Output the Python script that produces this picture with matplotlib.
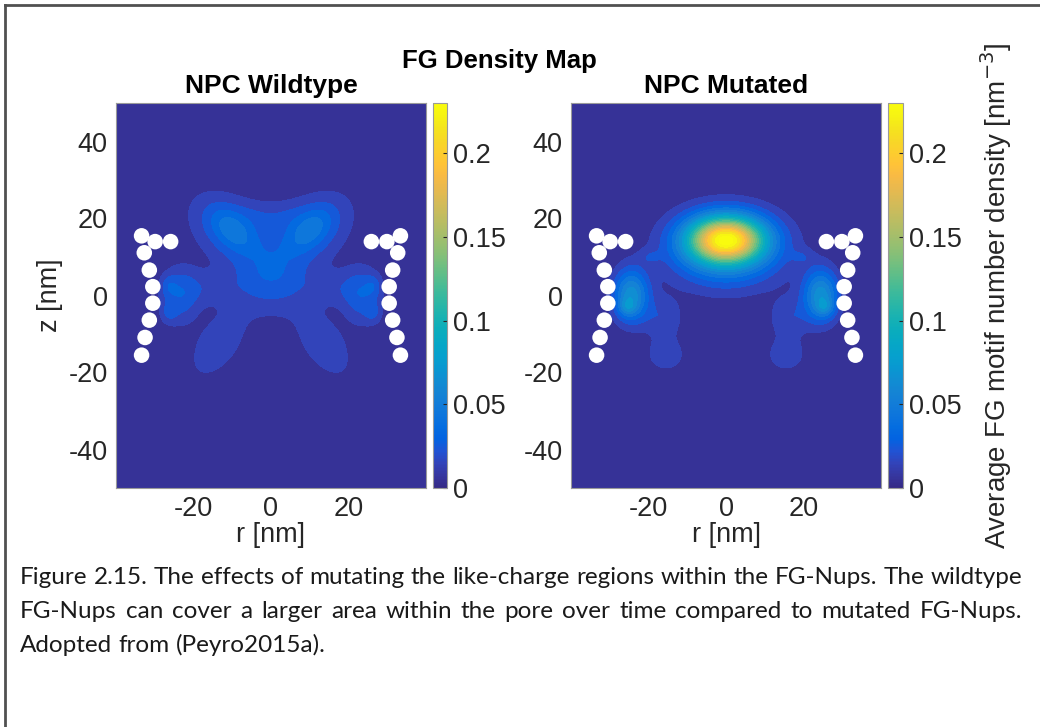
import numpy as np
import matplotlib
matplotlib.use("Agg")
import matplotlib.pyplot as plt
from matplotlib.colors import LinearSegmentedColormap, Normalize
from matplotlib.cm import ScalarMappable
from matplotlib.lines import Line2D
from matplotlib.ticker import FuncFormatter

plt.rcParams["font.family"] = ["Liberation Sans", "DejaVu Sans"]
plt.rcParams["axes.unicode_minus"] = False

# ---------------- data ----------------
r_limits = [-40, 40]
z_limits = [-50, 50]
x_ticks = [-20, 0, 20]
y_ticks = [-40, -20, 0, 20, 40]
cbar_ticks = [0, 0.05, 0.1, 0.15, 0.2]
cbar_max = 0.23
level_step = 0.01

# NPC scaffold beads (left wall; right wall is the mirror image)
bead_r = [-33.4, -29.9, -25.9, -32.7, -31.4, -30.5, -30.5, -31.4, -32.5, -33.4]
bead_z = [15.5, 14.0, 14.0, 11.1, 6.6, 2.3, -2.0, -6.4, -10.9, -15.5]

# density components (r, z, long sigma, short sigma, angle deg, peak); r<0 ones are mirrored
wt_r   = [-10.0, -10.0, 0.0, -15.0, -23.5, -26.5, -26.5, -13.5, 0.0, 0.0]
wt_z   = [16.5, 17.0, 5.0, 2.0, 0.0, 2.5, -4.5, -12.5, -2.0, 21.0]
wt_sr  = [8.5, 4.5, 6.0, 6.0, 3.5, 1.5, 1.5, 7.5, 6.0, 7.0]
wt_sz  = [5.5, 2.5, 4.0, 3.5, 5.5, 2.0, 2.0, 4.0, 4.0, 3.0]
wt_ang = [-40, -45, 0, 0, 0, 0, 0, 55, 0, 0]
wt_amp = [0.031, 0.016, 0.016, 0.014, 0.025, 0.012, 0.012, 0.019, 0.010, 0.010]

mut_r   = [0.0, 0.0, -24.5, -25.5, -16.0, -15.5, -19.5]
mut_z   = [14.5, 12.3, 0.0, -3.0, -6.0, -15.5, 10.0]
mut_sr  = [6.5, 10.0, 3.2, 1.5, 3.5, 3.5, 2.0]
mut_sz  = [4.0, 6.8, 4.8, 1.5, 4.0, 3.0, 1.5]
mut_ang = [0, 0, 0, 0, 0, 0, 0]
mut_amp = [0.18, 0.06, 0.065, 0.02, 0.018, 0.018, 0.01]

panel_titles = ["NPC Wildtype", "NPC Mutated"]
suptitle = "FG Density Map"
cbar_label = "Average FG motif number density [nm$^{-3}$]"
caption_lines = [
    "Figure 2.15. The effects of mutating the like-charge regions within the FG-Nups. The wildtype",
    "FG-Nups can cover a larger area within the pore over time compared to mutated FG-Nups.",
    "Adopted from (Peyro2015a).",
]
caption_justify = [True, True, False]

# ---------------- parula colormap ----------------
parula_pts = [
    (0.2081, 0.1663, 0.5292), (0.2123, 0.2138, 0.6270), (0.1959, 0.2645, 0.7279),
    (0.1253, 0.3242, 0.8303), (0.0117, 0.3875, 0.8820), (0.0165, 0.4266, 0.8786),
    (0.0498, 0.4586, 0.8641), (0.0723, 0.4887, 0.8467), (0.0793, 0.5200, 0.8312),
    (0.0641, 0.5570, 0.8240), (0.0343, 0.5966, 0.8199), (0.0239, 0.6287, 0.8038),
    (0.0228, 0.6535, 0.7768), (0.0384, 0.6743, 0.7436), (0.0843, 0.6928, 0.7062),
    (0.1453, 0.7098, 0.6646), (0.2178, 0.7250, 0.6193), (0.3022, 0.7376, 0.5712),
    (0.3953, 0.7459, 0.5244), (0.4871, 0.7491, 0.4840), (0.5709, 0.7485, 0.4494),
    (0.6473, 0.7456, 0.4188), (0.7184, 0.7411, 0.3905), (0.7858, 0.7356, 0.3633),
    (0.8507, 0.7299, 0.3360), (0.9139, 0.7258, 0.3063), (0.9739, 0.7314, 0.2666),
    (0.9990, 0.7653, 0.2164), (0.9880, 0.8066, 0.1794), (0.9697, 0.8481, 0.1475),
    (0.9589, 0.8949, 0.1132), (0.9661, 0.9514, 0.0755), (0.9763, 0.9831, 0.0538),
]
parula = LinearSegmentedColormap.from_list("parula", parula_pts, N=256)


def density(rs, zs, srs, szs, angs, amps, R, Z):
    F = np.zeros_like(R)
    for r0, z0, s1, s2, a, A in zip(rs, zs, srs, szs, angs, amps):
        signs = (1,) if r0 == 0 else (1, -1)
        for s in signs:
            th = np.radians(s * a)
            dr = R - s * r0
            dz = Z - z0
            u = dr * np.cos(th) + dz * np.sin(th)
            v = -dr * np.sin(th) + dz * np.cos(th)
            F += A * np.exp(-0.5 * ((u / s1) ** 2 + (v / s2) ** 2))
    return F


rr = np.linspace(r_limits[0], r_limits[1], 321)
zz = np.linspace(z_limits[0], z_limits[1], 401)
R, Z = np.meshgrid(rr, zz)
fields = [
    density(wt_r, wt_z, wt_sr, wt_sz, wt_ang, wt_amp, R, Z),
    density(mut_r, mut_z, mut_sr, mut_sz, mut_ang, mut_amp, R, Z),
]
levels = np.arange(0, cbar_max + level_step, level_step)
norm = Normalize(vmin=0, vmax=cbar_max)

# ---------------- figure ----------------
W, H = 1040, 727
fig = plt.figure(figsize=(W / 100, H / 100), dpi=100)
fig.patch.set_facecolor("white")


def fx(px):
    return px / W


def fy(py):
    return 1 - py / H


ax_boxes = [(116, 103, 426, 488), (571, 103, 881, 488)]
cb_boxes = [(433, 103, 447, 488), (888, 103, 903, 488)]
tick_color = "#262626"
tick_fs = 19.5

for i in range(2):
    x0, y0, x1, y1 = ax_boxes[i]
    ax = fig.add_axes([fx(x0), fy(y1), fx(x1 - x0), (y1 - y0) / H])
    ax.contourf(R, Z, fields[i], levels=levels, cmap=parula, norm=norm, extend="max")
    bx = np.array(bead_r + [-b for b in bead_r])
    bz = np.array(bead_z + bead_z)
    ax.scatter(bx, bz, s=125, c="white", edgecolors="none", zorder=5)
    ax.set_xlim(r_limits)
    ax.set_ylim(z_limits)
    ax.set_xticks(x_ticks)
    ax.set_yticks(y_ticks)
    ax.tick_params(labelsize=tick_fs, colors=tick_color, length=0, pad=6)
    for sp in ax.spines.values():
        sp.set_color("#9a9a9a")
        sp.set_linewidth(0.8)
    ax.set_xlabel("r [nm]", fontsize=tick_fs, color=tick_color, labelpad=0)
    if i == 0:
        ax.set_ylabel("z [nm]", fontsize=tick_fs, color=tick_color, labelpad=4)
    ax.set_title(panel_titles[i], fontsize=19, fontweight="bold", pad=7)

    cx0, cy0, cx1, cy1 = cb_boxes[i]
    cax = fig.add_axes([fx(cx0), fy(cy1), fx(cx1 - cx0), (cy1 - cy0) / H])
    cb = fig.colorbar(ScalarMappable(norm=norm, cmap=parula), cax=cax, ticks=cbar_ticks,
                      format=FuncFormatter(lambda v, p: f"{v:g}"))
    cb.ax.tick_params(labelsize=tick_fs, colors=tick_color, direction="in", length=3, width=0.8, pad=4)
    cb.outline.set_edgecolor("#9a9a9a")
    cb.outline.set_linewidth(0.8)
    if i == 1:
        cb.set_label(cbar_label, fontsize=20, color=tick_color, labelpad=12)

fig.text(fx(499), fy(61), suptitle, ha="center", va="center", fontsize=18.5, fontweight="bold")

# border lines
fig.add_artist(Line2D([fx(5), 1.0], [fy(5), fy(5)], color="#505050", lw=2))
fig.add_artist(Line2D([fx(5), fx(5)], [fy(5), 0.0], color="#505050", lw=2))

# caption (justified)
cap_family = ["Lato", "DejaVu Sans"]
cap_fs = 17.5
cap_x0, cap_x1 = 20, 1022
cap_y = [577, 611, 645]
renderer = fig.canvas.get_renderer()
for line, just, yy in zip(caption_lines, caption_justify, cap_y):
    words = line.split(" ")
    texts = [fig.text(0, fy(yy), w, fontsize=cap_fs, family=cap_family, va="center", ha="left", color="#1a1a1a")
             for w in words]
    widths = [t.get_window_extent(renderer).width for t in texts]
    if just:
        gap = (cap_x1 - cap_x0 - sum(widths)) / (len(words) - 1)
    else:
        sp = fig.text(0, 0, "a a", fontsize=cap_fs, family=cap_family)
        sp2 = fig.text(0, 0, "aa", fontsize=cap_fs, family=cap_family)
        gap = sp.get_window_extent(renderer).width - sp2.get_window_extent(renderer).width
        sp.remove()
        sp2.remove()
    x = cap_x0
    for t, w in zip(texts, widths):
        t.set_x(fx(x))
        x += w + gap

fig.savefig("out.png", dpi=100, facecolor="white")
